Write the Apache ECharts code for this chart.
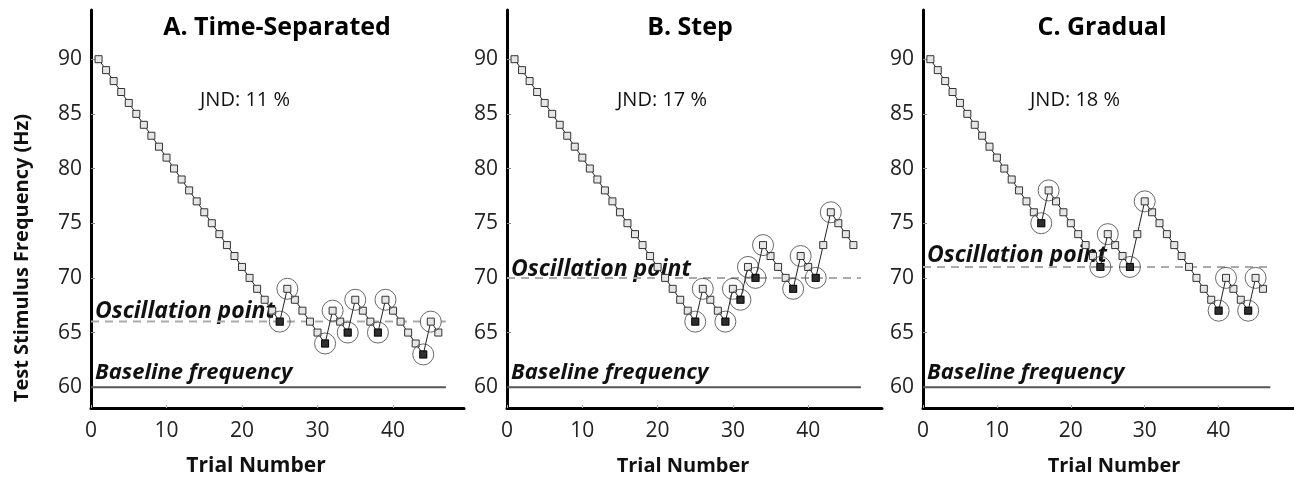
<!DOCTYPE html>
<html>
<head>
<meta charset="utf-8">
<script src="https://cdn.jsdelivr.net/npm/echarts@6/dist/echarts.min.js"></script>
<style>
html,body{margin:0;padding:0;background:#fff;}
#c{width:1294px;height:479px;}
</style>
</head>
<body>
<div id="c"></div>
<script>
// ---- data ----
const panelTitles = ['A. Time-Separated', 'B. Step', 'C. Gradual'];
const jndLabels = ['JND: 11 %', 'JND: 17 %', 'JND: 18 %'];
const yTicks = [60, 65, 70, 75, 80, 85, 90];
const xTicks = [0, 10, 20, 30, 40];
const trials = [1,2,3,4,5,6,7,8,9,10,11,12,13,14,15,16,17,18,19,20,21,22,23,24,25,26,27,28,29,30,31,32,33,34,35,36,37,38,39,40,41,42,43,44,45,46];
const valuesA = [90,89,88,87,86,85,84,83,82,81,80,79,78,77,76,75,74,73,72,71,70,69,68,67,66,
                 69,68,67,66,65,64,67,66,65,68,67,66,65,68,67,66,65,64,63,66,65];
const valuesB = [90,89,88,87,86,85,84,83,82,81,80,79,78,77,76,75,74,73,72,71,70,69,68,67,66,
                 69,68,67,66,69,68,71,70,73,72,71,70,69,72,71,70,73,76,75,74,73];
const valuesC = [90,89,88,87,86,85,84,83,82,81,80,79,78,77,76,75,
                 78,77,76,75,74,73,72,71,74,73,72,71,74,77,76,75,74,73,72,71,70,69,68,67,70,69,68,67,70,69];
const lowsA = [25,31,34,38,44];
const highsA = [26,32,35,39,45];
const lowsB = [25,29,31,33,38,41];
const highsB = [26,30,32,34,39,43];
const lowsC = [16,24,28,40,44];
const highsC = [17,25,30,41,45];
const oscillation = [66, 70, 71];
const baseline = 60;
const refLineEnd = 47;

// ---- layout ----
const panels = [
  {left:91, width:373, xMax:49.4, values:valuesA, lows:lowsA, highs:highsA},
  {left:507, width:375, xMax:49.8, values:valuesB, lows:lowsB, highs:highsB},
  {left:923, width:371, xMax:50.2, values:valuesC, lows:lowsC, highs:highsC}
];
const gridTop = 10, gridH = 398;
const yMin = 58.1, yMax = 94.5;
const tickFont = '"Open Sans", "Noto Sans", sans-serif';

const grid = [], xAxis = [], yAxis = [], series = [], graphic = [];
panels.forEach((p, i) => {
  grid.push({left:p.left, top:gridTop, width:p.width, height:gridH});
  xAxis.push({
    type:'value', gridIndex:i, min:0, max:p.xMax,
    axisLine:{show:true, onZero:false, lineStyle:{color:'#000', width:3}},
    axisTick:{show:true, inside:true, length:3, lineStyle:{color:'#aaa'}, customValues:xTicks},
    axisLabel:{show:true, customValues:xTicks, fontSize:21, color:'#222', margin:13, fontFamily:tickFont},
    splitLine:{show:false}
  });
  yAxis.push({
    type:'value', gridIndex:i, min:yMin, max:yMax,
    axisLine:{show:true, onZero:false, lineStyle:{color:'#000', width:3}},
    axisTick:{show:true, inside:true, length:4, lineStyle:{color:'#888'}, customValues:yTicks},
    axisLabel:{show:true, customValues:yTicks, fontSize:21, color:'#222', margin:9, fontFamily:tickFont},
    splitLine:{show:false}
  });
  const pts = trials.map((t, k) => [t, p.values[k]]);
  const valAt = t => p.values[trials.indexOf(t)];
  // baseline
  series.push({type:'line', xAxisIndex:i, yAxisIndex:i, data:[[0, baseline],[refLineEnd, baseline]],
    symbol:'none', silent:true, lineStyle:{color:'#555', width:2}, z:1});
  // oscillation point
  series.push({type:'line', xAxisIndex:i, yAxisIndex:i, data:[[0, oscillation[i]],[refLineEnd, oscillation[i]]],
    symbol:'none', silent:true, lineStyle:{color:'#aaa', width:2, type:[8,6]}, z:1});
  // staircase
  series.push({type:'line', xAxisIndex:i, yAxisIndex:i, data:pts, symbol:'rect', symbolSize:7,
    showAllSymbol:true, lineStyle:{color:'#222', width:1},
    itemStyle:{color:'#e6e6e6', borderColor:'#333', borderWidth:1}, z:3, animation:false});
  // circles around reversals
  const rev = p.lows.concat(p.highs).map(t => [t, valAt(t)]);
  series.push({type:'scatter', xAxisIndex:i, yAxisIndex:i, data:rev, symbol:'circle', symbolSize:21,
    itemStyle:{color:'rgba(0,0,0,0)', borderColor:'#444', borderWidth:1}, z:4});
  // filled low reversals
  series.push({type:'scatter', xAxisIndex:i, yAxisIndex:i, data:p.lows.map(t => [t, valAt(t)]),
    symbol:'rect', symbolSize:8, itemStyle:{color:'#000'}, z:5});
});

const titleCenters = [277, 690, 1102];
const jndLeft = [200, 617, 1030];
const xNameCenters = [256, 683, 1114];
const xNameSizes = [21, 20, 20];
panels.forEach((p, i) => {
  graphic.push({type:'text', x:titleCenters[i], y:28, style:{text:panelTitles[i], fill:'#000',
    font:'bold 25px "Open Sans", sans-serif', textAlign:'center', textVerticalAlign:'middle'}});
  graphic.push({type:'text', x:jndLeft[i], y:100, style:{text:jndLabels[i], fill:'#111',
    font:'20px "Open Sans", sans-serif', textAlign:'left', textVerticalAlign:'middle'}});
  graphic.push({type:'text', x:xNameCenters[i], y:466, style:{text:'Trial Number', fill:'#111',
    font:'bold ' + xNameSizes[i] + 'px "Open Sans", sans-serif', textAlign:'center', textVerticalAlign:'middle'}});
  graphic.push({type:'text', x:p.left + 4, y:373, style:{text:'Baseline frequency', fill:'#111',
    font:'italic bold 22px "Open Sans", sans-serif', textAlign:'left', textVerticalAlign:'middle'}});
});
const oscLabelY = [311, 269, 255];
panels.forEach((p, i) => {
  graphic.push({type:'text', x:p.left + 4, y:oscLabelY[i], style:{text:'Oscillation point', fill:'#111',
    font:'italic bold 23px "Open Sans", sans-serif', textAlign:'left', textVerticalAlign:'middle'}});
});
graphic.push({type:'text', x:22, y:258, rotation:Math.PI/2, style:{text:'Test Stimulus Frequency (Hz)', fill:'#111',
  font:'bold 20px "Open Sans", sans-serif', textAlign:'center', textVerticalAlign:'middle'}});

const chart = echarts.init(document.getElementById('c'));
chart.setOption({animation:false, backgroundColor:'#fff', grid, xAxis, yAxis, series, graphic});
</script>
</body>
</html>
